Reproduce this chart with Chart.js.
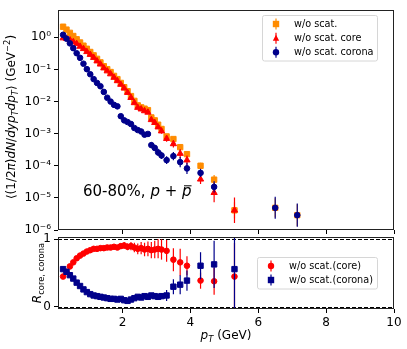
<!DOCTYPE html>
<html>
<head>
<meta charset="utf-8">
<script src="https://cdn.jsdelivr.net/npm/chart.js@4"></script>
<style>
html, body { margin: 0; padding: 0; background: #fff; }
#wrap { position: relative; width: 407px; height: 349px; }
canvas { position: absolute; left: 0; top: 0; }
</style>
</head>
<body>
<div id="wrap">
  <canvas id="spec" width="407" height="349"></canvas>
  <canvas id="ratio" width="407" height="349"></canvas>
</div>
<script>
// pT bin centres (GeV)
const pT = [0.25, 0.35, 0.45, 0.55, 0.65, 0.75, 0.85, 0.95, 1.05, 1.15,
            1.25, 1.35, 1.45, 1.55, 1.65, 1.75, 1.85, 1.95, 2.05, 2.15,
            2.25, 2.35, 2.45, 2.55, 2.65, 2.75, 2.85, 2.95, 3.05, 3.15,
            3.3, 3.5, 3.7, 3.9, 4.3, 4.7, 5.3, 6.5, 7.15];

// spectra: w/o scat., core, corona
const yieldAll = [2.14, 1.74, 1.38, 1.10, 0.87, 0.69, 0.55, 0.44, 0.35, 0.275,
                  0.214, 0.166, 0.126, 0.102, 0.083, 0.063, 0.050, 0.038, 0.028, 0.021,
                  0.0148, 0.0105, 0.0076, 0.0066, 0.0060, 0.0054, 0.0032, 0.0026, 0.0019, 0.0014,
                  8.2e-4, 6.8e-4, 3.8e-4, 2.3e-4, 1.0e-4, 3.7e-5, 4.1e-6, 4.9e-6, 2.9e-6];
const yieldCore = [0.95, 0.91, 0.83, 0.72, 0.63, 0.52, 0.44, 0.355, 0.29, 0.234,
                   0.182, 0.145, 0.110, 0.089, 0.072, 0.056, 0.044, 0.034, 0.026, 0.019,
                   0.0132, 0.0091, 0.0065, 0.0058, 0.0051, 0.0046, 0.0027, 0.0022, 0.0016, 0.0012,
                   7.0e-4, 4.8e-4, 2.4e-4, 1.5e-4, 3.8e-5, 1.45e-5, 4.1e-6, null, null];
const yieldCorona = [1.20, 0.91, 0.65, 0.46, 0.32, 0.23, 0.151, 0.102, 0.071, 0.050,
                     0.038, 0.030, 0.020, 0.0132, 0.0100, 0.0079, 0.0071, 0.0035, 0.0026, 0.0023,
                     0.0020, 0.0015, 0.0013, 0.00117, 0.00093, 0.00098, 0.00044, 0.00036, 0.00026, 0.00021,
                     1.5e-4, 2.0e-4, 1.3e-4, 8.3e-5, 6.0e-5, 2.2e-5, null, 4.9e-6, 2.9e-6];

// error bars on the spectra, as multiplicative factors (bar from y/f to y*f)
const errAll = [1.02, 1.02, 1.02, 1.02, 1.02, 1.02, 1.02, 1.02, 1.02, 1.02,
                1.02, 1.02, 1.02, 1.02, 1.02, 1.02, 1.02, 1.02, 1.02, 1.02,
                1.03, 1.03, 1.03, 1.03, 1.04, 1.04, 1.05, 1.05, 1.06, 1.06,
                1.1, 1.1, 1.15, 1.2, 1.25, 1.4, 1.8, 2.0, 2.2];
const errCore = [1.02, 1.02, 1.02, 1.02, 1.02, 1.02, 1.02, 1.02, 1.02, 1.02,
                 1.02, 1.02, 1.02, 1.02, 1.02, 1.02, 1.02, 1.02, 1.02, 1.02,
                 1.02, 1.02, 1.05, 1.05, 1.08, 1.08, 1.1, 1.12, 1.15, 1.2,
                 1.25, 1.3, 1.4, 1.4, 1.4, 2.0, 2.5, null, null];
const errCorona = [1.02, 1.02, 1.02, 1.02, 1.02, 1.02, 1.02, 1.02, 1.02, 1.02,
                   1.02, 1.02, 1.02, 1.02, 1.02, 1.02, 1.02, 1.02, 1.02, 1.02,
                   1.05, 1.05, 1.1, 1.1, 1.15, 1.15, 1.2, 1.25, 1.3, 1.3,
                   1.32, 1.35, 1.45, 1.5, 1.35, 1.5, null, 2.2, 2.3];

// ratios core/total and corona/total (first 37 bins)
const ratioCore = [0.45, 0.52, 0.60, 0.66, 0.72, 0.76, 0.79, 0.82, 0.84, 0.86,
                   0.86, 0.87, 0.87, 0.88, 0.88, 0.89, 0.88, 0.90, 0.91, 0.89,
                   0.90, 0.88, 0.86, 0.87, 0.85, 0.86, 0.84, 0.85, 0.86, 0.85,
                   0.83, 0.70, 0.66, 0.61, 0.39, 0.38, 0.45];
const ratioCorona = [0.56, 0.52, 0.47, 0.42, 0.36, 0.31, 0.26, 0.22, 0.19, 0.17,
                     0.16, 0.15, 0.14, 0.13, 0.12, 0.12, 0.11, 0.12, 0.10, 0.09,
                     0.11, 0.13, 0.15, 0.14, 0.16, 0.15, 0.17, 0.16, 0.15, 0.16,
                     0.17, 0.30, 0.33, 0.39, 0.61, 0.63, 0.56];
const errRatioCore = [0.01, 0.01, 0.01, 0.01, 0.01, 0.01, 0.01, 0.01, 0.015, 0.015,
                      0.02, 0.02, 0.02, 0.025, 0.03, 0.03, 0.035, 0.04, 0.05, 0.05,
                      0.06, 0.07, 0.08, 0.09, 0.10, 0.11, 0.12, 0.13, 0.14, 0.15,
                      0.16, 0.17, 0.20, 0.14, 0.12, 0.20, 0.50];
const errRatioCorona = [0.01, 0.01, 0.01, 0.01, 0.01, 0.01, 0.01, 0.01, 0.01, 0.01,
                        0.01, 0.01, 0.01, 0.01, 0.01, 0.01, 0.015, 0.015, 0.02, 0.02,
                        0.02, 0.025, 0.025, 0.03, 0.03, 0.03, 0.035, 0.035, 0.04, 0.04,
                        0.08, 0.11, 0.14, 0.15, 0.20, 0.35, 0.60];

// axes
const xTicks = [2, 4, 6, 8, 10];
const yTicks = [1e-6, 1e-5, 1e-4, 1e-3, 1e-2, 1e-1, 1];
const yTickLabels = ['10⁻⁶', '10⁻⁵', '10⁻⁴', '10⁻³', '10⁻²', '10⁻¹', '10⁰'];
const ratioTicks = [0, 1];
const refLines = [0, 1];

const ORANGE = '#ff8c00';
const RED = '#ff0000';
const NAVY = '#00008b';
const FONT = '"DejaVu Sans", sans-serif';

Chart.defaults.font.family = FONT;
Chart.defaults.font.size = 12;
Chart.defaults.color = '#000';

function pts(ys, errs) {
    const out = [];
    ys.forEach((y, i) => {
        if (y !== null) out.push({ x: pT[i], y: y, e: errs[i] });
    });
    return out;
}

// draws text with italic / sub / superscript parts
function drawRich(ctx, parts, x, y, size, angle, align) {
    ctx.save();
    ctx.translate(x, y);
    ctx.rotate(angle);
    ctx.textBaseline = 'alphabetic';
    ctx.textAlign = 'left';
    ctx.fillStyle = '#000';
    const fontOf = p => (p.it ? 'italic ' : '') + (p.sub || p.sup ? size * 0.7 : size) + 'px ' + FONT;
    let w = 0;
    parts.forEach(p => { ctx.font = fontOf(p); w += ctx.measureText(p.t).width; });
    let cx = align === 'left' ? 0 : -w / 2;
    parts.forEach(p => {
        ctx.font = fontOf(p);
        const dy = p.sub ? size * 0.22 : (p.sup ? -size * 0.42 : 0);
        ctx.fillText(p.t, cx, dy);
        const pw = ctx.measureText(p.t).width;
        if (p.bar) {
            ctx.strokeStyle = '#000';
            ctx.lineWidth = 1;
            ctx.beginPath();
            ctx.moveTo(cx + 2, -size * 0.68);
            ctx.lineTo(cx + pw, -size * 0.68);
            ctx.stroke();
        }
        cx += pw;
    });
    ctx.restore();
}

function drawMarker(ctx, style, x, y, r, color) {
    ctx.fillStyle = color;
    ctx.beginPath();
    if (style === 'rect') {
        ctx.rect(x - r, y - r, 2 * r, 2 * r);
    } else if (style === 'triangle') {
        ctx.moveTo(x, y - r * 1.1);
        ctx.lineTo(x + r, y + r * 0.75);
        ctx.lineTo(x - r, y + r * 0.75);
        ctx.closePath();
    } else {
        ctx.arc(x, y, r, 0, Math.PI * 2);
    }
    ctx.fill();
}

function drawLegend(ctx, box, items, mx, tx, size) {
    ctx.save();
    ctx.beginPath();
    ctx.roundRect(box.x, box.y, box.w, box.h, 2);
    ctx.fillStyle = 'rgba(255,255,255,0.8)';
    ctx.fill();
    ctx.strokeStyle = '#d6d6d6';
    ctx.lineWidth = 1;
    ctx.stroke();
    items.forEach(it => {
        ctx.strokeStyle = it.color;
        ctx.lineWidth = 1.2;
        ctx.beginPath();
        ctx.moveTo(mx, it.y - 5.5);
        ctx.lineTo(mx, it.y + 5.5);
        ctx.stroke();
        drawMarker(ctx, it.style, mx, it.y, 3.2, it.color);
        ctx.fillStyle = '#000';
        ctx.font = size + 'px ' + FONT;
        ctx.textBaseline = 'middle';
        ctx.fillText(it.label, tx, it.y);
    });
    ctx.restore();
}

const errorBars = {
    id: 'errorBars',
    beforeDatasetDraw(chart, args) {
        const ds = chart.data.datasets[args.index];
        const ys = chart.scales.y;
        const a = chart.chartArea;
        const ctx = chart.ctx;
        ctx.save();
        ctx.beginPath();
        ctx.rect(a.left, a.top, a.right - a.left, a.bottom - a.top);
        ctx.clip();
        ctx.strokeStyle = ds.borderColor;
        ctx.lineWidth = 1.2;
        ds.data.forEach((p, i) => {
            if (!p.e) return;
            const lo = ds.logErr ? p.y / p.e : p.y - p.e;
            const hi = ds.logErr ? p.y * p.e : p.y + p.e;
            const x = args.meta.data[i].x;
            ctx.beginPath();
            ctx.moveTo(x, ys.getPixelForValue(lo));
            ctx.lineTo(x, ys.getPixelForValue(hi));
            ctx.stroke();
        });
        ctx.restore();
    }
};

const frame = {
    id: 'frame',
    afterDraw(chart) {
        const a = chart.chartArea;
        const ctx = chart.ctx;
        ctx.save();
        ctx.strokeStyle = '#222';
        ctx.lineWidth = 1;
        ctx.strokeRect(Math.round(a.left) + 0.5, Math.round(a.top) + 0.5,
                       Math.round(a.right - a.left) - 1, Math.round(a.bottom - a.top) - 1);
        ctx.restore();
    }
};

function xAxis(showLabels, height) {
    return {
        type: 'linear',
        min: 0.1,
        max: 10,
        afterBuildTicks: s => { s.ticks = xTicks.map(v => ({ value: v })); },
        afterFit: s => { s.height = height; },
        border: { display: false },
        grid: { drawOnChartArea: false, drawTicks: true, tickLength: 4, color: '#000' },
        ticks: {
            autoSkip: false,
            maxRotation: 0,
            padding: 3,
            font: { size: 12 },
            callback: v => showLabels ? String(v) : ''
        }
    };
}

const dsBase = { showLine: false, pointBorderWidth: 1 };

// ---- upper panel: spectra ----
new Chart(document.getElementById('spec'), {
    type: 'scatter',
    data: {
        datasets: [
            Object.assign({}, dsBase, {
                label: 'w/o scat.', data: pts(yieldAll, errAll), logErr: true,
                pointStyle: 'rect', pointRadius: 3.8,
                backgroundColor: ORANGE, borderColor: ORANGE, order: 3
            }),
            Object.assign({}, dsBase, {
                label: 'w/o scat. core', data: pts(yieldCore, errCore), logErr: true,
                pointStyle: 'triangle', pointRadius: 3.6,
                backgroundColor: RED, borderColor: RED, order: 2
            }),
            Object.assign({}, dsBase, {
                label: 'w/o scat. corona', data: pts(yieldCorona, errCorona), logErr: true,
                pointStyle: 'circle', pointRadius: 2.8,
                backgroundColor: NAVY, borderColor: NAVY, order: 1
            })
        ]
    },
    options: {
        responsive: false,
        animation: false,
        devicePixelRatio: 1,
        layout: { padding: { left: 0, top: 4, right: 13, bottom: 115 } },
        plugins: { legend: { display: false }, tooltip: { enabled: false } },
        scales: {
            x: xAxis(false, 4),
            y: {
                type: 'logarithmic',
                min: 1e-6,
                max: 7,
                afterBuildTicks: s => { s.ticks = yTicks.map(v => ({ value: v })); },
                afterFit: s => { s.width = 58; },
                border: { display: false },
                grid: { drawOnChartArea: false, drawTicks: true, tickLength: 4, color: '#000' },
                ticks: {
                    padding: 3,
                    font: { size: 12 },
                    callback: v => yTickLabels[yTicks.indexOf(v)] ?? ''
                }
            }
        }
    },
    plugins: [errorBars, frame, {
        id: 'decor',
        afterDraw(chart) {
            const ctx = chart.ctx;
            drawRich(ctx, [
                { t: '⟨(1/2' }, { t: 'π', it: true }, { t: ')' }, { t: 'dN', it: true }, { t: '/' },
                { t: 'dyp', it: true }, { t: 'T', it: true, sub: true }, { t: 'dp', it: true },
                { t: 'T', it: true, sub: true }, { t: '⟩' }, { t: ' (GeV' },
                { t: '−2', sup: true }, { t: ')' }
            ], 15, 117, 12, -Math.PI / 2, 'center');
            drawRich(ctx, [
                { t: '60-80%, ' }, { t: 'p', it: true }, { t: ' + ' }, { t: 'p', it: true, bar: true }
            ], 83, 196, 15, 0, 'left');
            drawLegend(ctx, { x: 262.5, y: 15.5, w: 115, h: 45.5 }, [
                { label: 'w/o scat.', style: 'rect', color: ORANGE, y: 24 },
                { label: 'w/o scat. core', style: 'triangle', color: RED, y: 38.3 },
                { label: 'w/o scat. corona', style: 'circle', color: NAVY, y: 52.3 }
            ], 276, 294, 9.7);
        }
    }]
});

// ---- lower panel: ratios ----
new Chart(document.getElementById('ratio'), {
    type: 'scatter',
    data: {
        datasets: [
            Object.assign({}, dsBase, {
                label: 'w/o scat.(core)', data: pts(ratioCore, errRatioCore), logErr: false,
                pointStyle: 'circle', pointRadius: 2.8,
                backgroundColor: RED, borderColor: RED, order: 2
            }),
            Object.assign({}, dsBase, {
                label: 'w/o scat.(corona)', data: pts(ratioCorona, errRatioCorona), logErr: false,
                pointStyle: 'rect', pointRadius: 3.8,
                backgroundColor: NAVY, borderColor: NAVY, order: 1
            })
        ]
    },
    options: {
        responsive: false,
        animation: false,
        devicePixelRatio: 1,
        layout: { padding: { left: 0, top: 237, right: 13, bottom: 0 } },
        plugins: { legend: { display: false }, tooltip: { enabled: false } },
        scales: {
            x: xAxis(true, 40),
            y: {
                type: 'linear',
                min: -0.03,
                max: 1.035,
                afterBuildTicks: s => { s.ticks = ratioTicks.map(v => ({ value: v })); },
                afterFit: s => { s.width = 58; },
                border: { display: false },
                grid: { drawOnChartArea: false, drawTicks: true, tickLength: 4, color: '#000' },
                ticks: { padding: 3, font: { size: 12 }, callback: v => String(v) }
            }
        }
    },
    plugins: [{
        id: 'refLines',
        beforeDatasetsDraw(chart) {
            const ctx = chart.ctx;
            const a = chart.chartArea;
            ctx.save();
            ctx.strokeStyle = '#000';
            ctx.lineWidth = 1;
            ctx.setLineDash([4, 2]);
            refLines.forEach(v => {
                const y = Math.round(chart.scales.y.getPixelForValue(v)) + 0.5;
                ctx.beginPath();
                ctx.moveTo(a.left, y);
                ctx.lineTo(a.right, y);
                ctx.stroke();
            });
            ctx.restore();
        }
    }, errorBars, frame, {
        id: 'decor2',
        afterDraw(chart) {
            const ctx = chart.ctx;
            drawRich(ctx, [
                { t: 'R', it: true }, { t: 'core, corona', sub: true }
            ], 41, 273, 12, -Math.PI / 2, 'center');
            drawRich(ctx, [
                { t: 'p', it: true }, { t: 'T', it: true, sub: true }, { t: ' (GeV)' }
            ], 226, 339, 12, 0, 'center');
            drawLegend(ctx, { x: 257.5, y: 257.5, w: 120, h: 31.5 }, [
                { label: 'w/o scat.(core)', style: 'circle', color: RED, y: 266 },
                { label: 'w/o scat.(corona)', style: 'rect', color: NAVY, y: 280 }
            ], 271, 289, 9.7);
        }
    }]
});
</script>
</body>
</html>
